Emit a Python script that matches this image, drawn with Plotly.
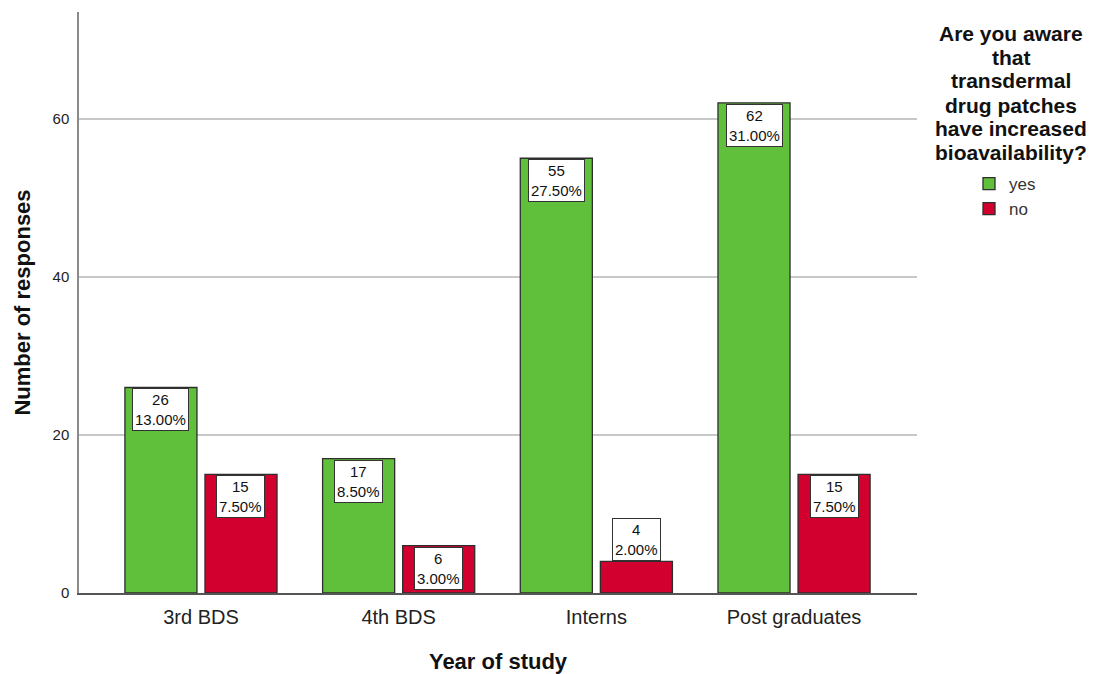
import plotly.graph_objects as go

# ---- data ----
categories = ["3rd BDS", "4th BDS", "Interns", "Post graduates"]
yes_counts = [26, 17, 55, 62]
no_counts = [15, 6, 4, 15]
yes_pct = [13.00, 8.50, 27.50, 31.00]
no_pct = [7.50, 3.00, 2.00, 7.50]
y_ticks = [0, 20, 40, 60]
series_names = ["yes", "no"]
legend_title_lines = ["Are you aware", "that", "transdermal", "drug patches",
                      "have increased", "bioavailability?"]

# ---- styling ----
GREEN = "#60bf3b"
RED = "#d2002e"
OUTLINE = "#2e2e2e"
FONT = "Liberation Sans, Arial, sans-serif"
W, H = 1101, 674
ML, MR, MT, MB = 79, 184, 12, 81
PLOT_W = W - ML - MR
PLOT_H = H - MT - MB
LABEL_SHIFT = 40          # px offset of each bar within its group
INSIDE_MIN = 5            # values below this get their label above the bar

fig = go.Figure()
for name, vals, col in [(series_names[0], yes_counts, GREEN), (series_names[1], no_counts, RED)]:
    fig.add_bar(x=categories, y=vals, name=name,
                marker=dict(color=col, line=dict(color=OUTLINE, width=1.3)),
                hoverinfo="x+y")

annotations = []
for series, (vals, pcts, shift) in enumerate([(yes_counts, yes_pct, -LABEL_SHIFT),
                                               (no_counts, no_pct, LABEL_SHIFT)]):
    for cat, v, p in zip(categories, vals, pcts):
        inside = v >= INSIDE_MIN
        annotations.append(dict(
            x=cat, y=v, xref="x", yref="y", xshift=shift,
            yshift=-1 if inside else 0,
            yanchor="top" if inside else "bottom",
            text=f"{v}<br>{p:.2f}%", showarrow=False, align="center",
            font=dict(family=FONT, size=15, color="#111111"),
            bgcolor="white", bordercolor="#333333", borderwidth=1, borderpad=2,
        ))

# legend title (centered, multi-line)
title_cx = (1011 - ML) / PLOT_W
for i, line in enumerate(legend_title_lines):
    py = 33 + 24 * i
    annotations.append(dict(
        x=title_cx, y=1 - (py - MT) / PLOT_H, xref="paper", yref="paper",
        xanchor="center", yanchor="middle", text=line, showarrow=False,
        font=dict(family=FONT, size=21, color="#111111", weight="bold"),
    ))

fig.update_layout(
    width=W, height=H,
    margin=dict(l=ML, r=MR, t=MT, b=MB, autoexpand=False),
    paper_bgcolor="white", plot_bgcolor="white",
    font=dict(family=FONT, color="#222222"),
    barmode="group", bargap=0.19, bargroupgap=0.1,
    showlegend=True,
    legend=dict(x=(969 - ML) / PLOT_W, y=1 - (166 - MT) / PLOT_H,
                xanchor="left", yanchor="top",
                font=dict(family=FONT, size=17, color="#333333"),
                bgcolor="rgba(0,0,0,0)", borderwidth=0, tracegroupgap=0),
    annotations=annotations,
    xaxis=dict(
        type="category", range=[-0.617, 3.622], automargin=False,
        showline=True, linecolor="#555555", linewidth=1.5,
        ticks="", showgrid=False, zeroline=False,
        tickfont=dict(family=FONT, size=20, color="#222222"),
        ticklabelstandoff=5,
        title=dict(text="Year of study", standoff=28,
                   font=dict(family=FONT, size=22, color="#111111", weight="bold")),
    ),
    yaxis=dict(
        range=[0, 73.5], tickvals=y_ticks, automargin=False,
        showline=True, linecolor="#8a8a8a", linewidth=1.5,
        showgrid=True, gridcolor="#c8c8c8", gridwidth=1.5,
        zeroline=False, ticks="",
        tickfont=dict(family=FONT, size=15, color="#222222"),
        ticklabelstandoff=5,
        title=dict(text="Number of responses", standoff=16,
                   font=dict(family=FONT, size=22, color="#111111", weight="bold")),
    ),
)

fig.write_html("out.html", config={"displayModeBar": False},
               post_script="document.body.style.margin='0';document.body.style.overflow='hidden';")
